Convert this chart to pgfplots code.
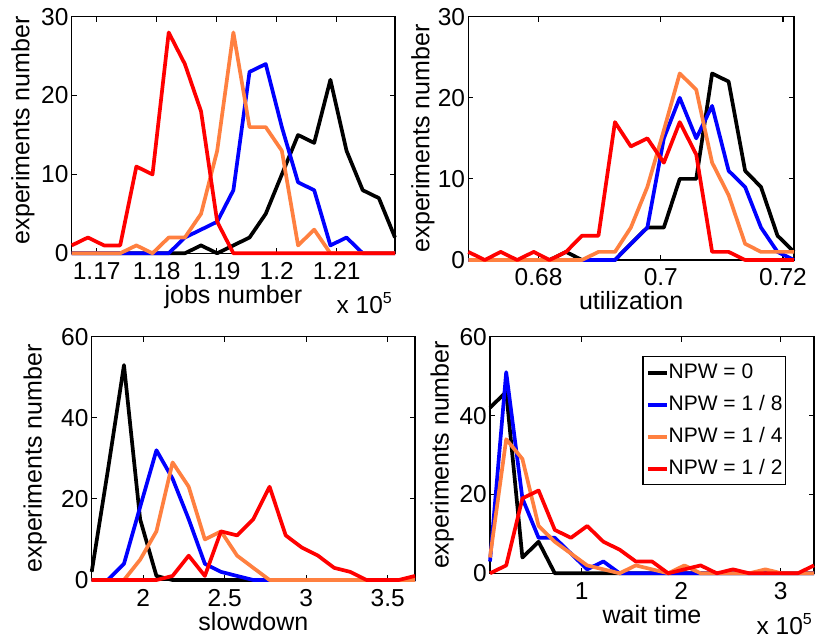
\documentclass[border=0pt]{standalone}
\usepackage{pgfplots}
\pgfplotsset{compat=1.18}
\usepackage{pgfplotstable}
\usepackage{fontspec}
\setmainfont{Liberation Sans}
\definecolor{npwA}{RGB}{0,0,0}
\definecolor{npwB}{RGB}{0,0,255}
\definecolor{npwC}{RGB}{255,128,64}
\definecolor{npwD}{RGB}{255,0,0}
\newcommand\tickfont{\fontsize{24.5}{28}\selectfont}
\newcommand\labfont{\fontsize{25}{30}\selectfont}
\newcommand\legfont{\fontsize{21}{25}\selectfont}
\newcommand\xtenfive{x 10\raisebox{10pt}{\fontsize{16}{18}\selectfont 5}}

\pgfplotstableread{
x k b o r
116583 0 0 0 1
116853 0 0 0 2
117122 0 0 0 1
117391 0 0 0 1
117661 0 0 1 11
117930 0 0 0 10
118200 0 0 2 28
118469 0 2 2 24
118739 1 3 5 18
119008 0 4 13 4
119278 1 8 28 0
119547 2 23 16 0
119817 5 24 16 0
120086 10 16 13 0
120356 15 9 1 0
120625 14 8 3 0
120895 22 1 0 0
121164 13 2 0 0
121434 8 0 0 0
121703 7 0 0 0
121972 2 0 0 0
}\jobs

\pgfplotstableread{
x k b o r
0.6685 0 0 0 1
0.6712 0 0 0 0
0.6738 0 0 0 1
0.6765 0 0 0 0
0.6792 0 0 0 1
0.6818 0 0 0 0
0.6845 1 0 0 1
0.6871 0 0 0 3
0.6898 0 0 1 3
0.6925 0 0 1 17
0.6951 2 2 4 14
0.6978 4 4 9 15
0.7005 4 15 16 12
0.7031 10 20 23 17
0.7058 10 15 21 13
0.7084 23 19 12 1
0.7111 22 11 8 1
0.7138 11 9 2 0
0.7164 9 4 1 0
0.7191 3 1 1 0
0.7218 1 0 1 0
}\util

\pgfplotstableread{
x k b o r
1.684 2 0 0 0
1.783 27 0 0 0
1.882 53 4 0 0
1.981 15 18 5 0
2.081 1 32 12 0
2.180 0 25 29 1
2.279 0 15 23 6
2.378 0 4 10 1
2.477 0 2 12 12
2.576 0 1 6 11
2.675 0 0 3 15
2.775 0 0 0 23
2.874 0 0 0 11
2.973 0 0 0 8
3.072 0 0 0 6
3.171 0 0 0 3
3.270 0 0 0 2
3.370 0 0 0 0
3.469 0 0 0 0
3.568 0 0 0 0
3.667 0 0 0 1
}\slow

\pgfplotstableread{
x k b o r
7840 42 3 4 0
24123 46 51 34 2
40406 4 19 29 19
56689 8 9 12 21
72972 0 9 8 11
89255 0 5 5 9
105538 0 1 2 12
121821 0 3 1 8
138104 0 0 0 6
154387 0 0 2 3
170670 0 0 1 3
186953 0 0 0 0
203236 0 0 2 1
219519 0 0 0 2
235802 0 0 0 0
252085 0 0 0 1
268368 0 0 0 0
284651 0 0 1 0
300934 0 0 0 0
317217 0 0 0 0
333500 0 0 0 2
}\wait

\pgfplotsset{
  panel/.style={
    scale only axis, clip=false,
    axis line style={line width=1.1pt},
    tick align=inside, major tick length=5pt,
    tick style={line width=1.1pt, black},
    /pgf/number format/assume math mode=true,
    tick label style={font=\tickfont},
    xticklabel style={anchor=base, yshift=-26pt, inner sep=0pt},
    yticklabel style={anchor=east, xshift=-3pt, inner sep=0pt},
    label style={font=\labfont},
    xlabel style={at={(axis description cs:0.5,0)}, anchor=base, yshift=-50pt, inner sep=0pt},
    ylabel={experiments number},
    ymin=0,
  },
  s/.style={line width=3.7pt, line join=round},
}

\begin{document}
\begin{tikzpicture}[x=1pt,y=1pt]
\useasboundingbox (0,0) rectangle (816,640);

% top-left: jobs number
\begin{axis}[panel, at={(71.7pt,386.7pt)}, anchor=south west,
  width=323.3pt, height=236.6pt,
  xmin=116583, xmax=121972, ymax=30,
  xtick={117000,118000,119000,120000,121000}, ytick={0,10,20,30},
  scaled x ticks=base 10:-5,
  xtick scale label code/.code={},
  xlabel={jobs number},
  ylabel style={at={(axis description cs:-0.1506,0.52)}, anchor=center},
  extra description/.code={\node[anchor=base east, inner sep=0pt, font=\tickfont, xshift=-3pt, yshift=-60.7pt] at (axis description cs:1,0) {\xtenfive};}]
\addplot[s, npwA] table[x=x, y=k] {\jobs};
\addplot[s, npwB] table[x=x, y=b] {\jobs};
\addplot[s, npwC] table[x=x, y=o] {\jobs};
\addplot[s, npwD] table[x=x, y=r] {\jobs};
\end{axis}

% top-right: utilization
\begin{axis}[panel, at={(468.3pt,380pt)}, anchor=south west,
  width=325.7pt, height=243.3pt,
  xmin=0.6685, xmax=0.7218, ymax=30,
  xtick={0.68,0.7,0.72}, ytick={0,10,20,30},
  xlabel={utilization},
  ylabel style={at={(axis description cs:-0.139,0.5)}, anchor=center}]
\addplot[s, npwA] table[x=x, y=k] {\util};
\addplot[s, npwB] table[x=x, y=b] {\util};
\addplot[s, npwC] table[x=x, y=o] {\util};
\addplot[s, npwD] table[x=x, y=r] {\util};
\end{axis}

% bottom-left: slowdown
\begin{axis}[panel, at={(91.7pt,60pt)}, anchor=south west,
  width=323.3pt, height=243.3pt,
  xmin=1.684, xmax=3.667, ymax=60,
  xtick={2,2.5,3,3.5}, ytick={0,20,40,60},
  xlabel={slowdown},
  ylabel style={at={(axis description cs:-0.175,0.5)}, anchor=center}]
\addplot[s, npwA] table[x=x, y=k] {\slow};
\addplot[s, npwB] table[x=x, y=b] {\slow};
\addplot[s, npwC] table[x=x, y=o] {\slow};
\addplot[s, npwD] table[x=x, y=r] {\slow};
\end{axis}

% bottom-right: wait time
\begin{axis}[panel, at={(490pt,66.7pt)}, anchor=south west,
  width=324pt, height=236.6pt,
  xmin=7840, xmax=333500, ymax=60,
  xtick={100000,200000,300000}, ytick={0,20,40,60},
  scaled x ticks=base 10:-5,
  xtick scale label code/.code={},
  xlabel={wait time},
  ylabel style={at={(axis description cs:-0.148,0.5)}, anchor=center},
  extra description/.code={\node[anchor=base east, inner sep=0pt, font=\tickfont, xshift=-2pt, yshift=-61pt] at (axis description cs:1,0) {\xtenfive};},
  legend style={at={(axis description cs:0.9136,0.918)}, anchor=north east,
    font=\legfont, draw=black, line width=1.1pt,
    inner xsep=3pt, inner ysep=5.5pt, row sep=11pt, column sep=0pt,
    nodes={inner sep=0pt, text height=16pt, text depth=5pt}},
  legend cell align=left,
  legend image code/.code={\draw[#1] (0pt,0pt) -- (19pt,0pt);}]
\addplot[s, npwA] table[x=x, y=k] {\wait};
\addplot[s, npwB] table[x=x, y=b] {\wait};
\addplot[s, npwC] table[x=x, y=o] {\wait};
\addplot[s, npwD] table[x=x, y=r] {\wait};
\legend{NPW = 0, NPW = 1 / 8, NPW = 1 / 4, NPW = 1 / 2}
\end{axis}
\end{tikzpicture}
\end{document}
